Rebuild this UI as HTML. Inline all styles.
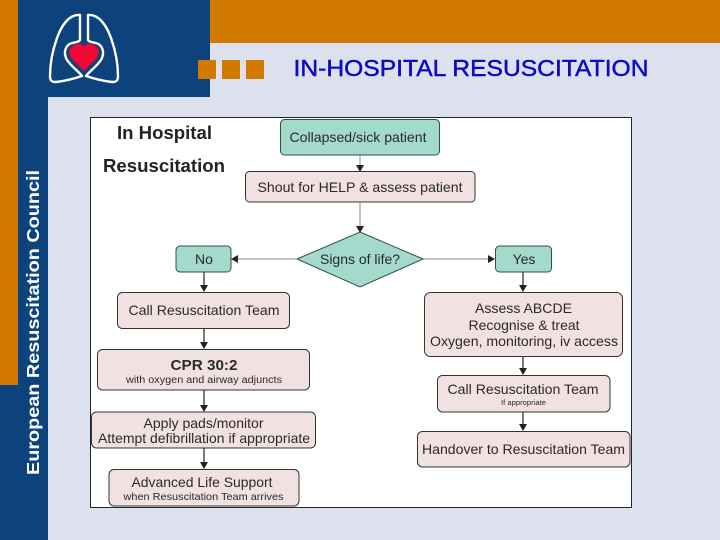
<!DOCTYPE html>
<html><head><meta charset="utf-8"><style>
html,body{margin:0;padding:0;width:720px;height:540px;overflow:hidden;background:#dde1ee}
svg{display:block}
text{font-family:"Liberation Sans",sans-serif;fill:#2a2a2a;text-anchor:middle}
.b{fill:#f1e1e0;stroke:#333;stroke-width:1}
.g{fill:#a3dacb;stroke:#2f4f4a;stroke-width:1}
.l{stroke:#333;stroke-width:1.3;fill:none}
.t{stroke:#888;stroke-width:1;fill:none}
.a{fill:#222;stroke:none}
</style></head><body>
<svg width="720" height="540" viewBox="0 0 720 540" xmlns="http://www.w3.org/2000/svg">
<rect width="720" height="540" fill="#dde1ee"/>
<rect x="210" y="0" width="510" height="43" fill="#d27a00"/>
<rect x="0" y="0" width="48" height="540" fill="#0c437c"/>
<rect x="18" y="0" width="192" height="97" fill="#0c437c"/>
<rect x="0" y="0" width="18" height="385" fill="#d27a00"/>
<rect x="198" y="60" width="18" height="19" fill="#d27a00"/>
<rect x="222" y="60" width="18" height="19" fill="#d27a00"/>
<rect x="246" y="60" width="18" height="19" fill="#d27a00"/>
<!-- logo -->
<path d="M80 15 C70 14 62 24 57 38 C52 52 50 66 50 76 C50 81 52 82 56 82 C65 81 73 79 82 76 C78 71 71 66 67 60 C63 53 65 45 72 43 C76 42 79 42 80 40 Z" fill="none" stroke="#fff" stroke-width="2.4" stroke-linejoin="round"/>
<path d="M88 15 C98 14 106 24 111 38 C116 52 118 66 118 76 C118 81 116 82 112 82 C103 81 95 79 86 76 C90 71 97 66 101 60 C105 53 103 45 96 43 C92 42 89 42 88 40 Z" fill="none" stroke="#fff" stroke-width="2.4" stroke-linejoin="round"/>
<path d="M84 71 C78 65 69 59 69 52 C69 45 79 41 84 46 C89 41 99 45 99 52 C99 59 90 65 84 71 Z" fill="#ee0a32" stroke="#5a2a6a" stroke-width="1"/>
<text x="471" y="76" textLength="355" lengthAdjust="spacingAndGlyphs" style="fill:#0a0ac8;stroke:#0a0ac8;stroke-width:.45px;font-size:23px">IN-HOSPITAL RESUSCITATION</text>
<text transform="translate(39 322.500) rotate(-90)" textLength="305" lengthAdjust="spacingAndGlyphs" style="fill:#fff;font-weight:700;font-size:17.500px">European Resuscitation Council</text>
<!-- panel -->
<rect x="90.500" y="117.500" width="541" height="390" fill="#fff" stroke="#1c2430" stroke-width="1"/>
<text x="164.500" y="139" textLength="95" lengthAdjust="spacingAndGlyphs" style="font-weight:700;font-size:18px;fill:#222">In Hospital</text>
<text x="164" y="172" textLength="122" lengthAdjust="spacingAndGlyphs" style="font-weight:700;font-size:18px;fill:#222">Resuscitation</text>
<!-- connectors -->
<path class="t" d="M360 155V166M360 202V227M296 259H236M423 259H490"/>
<path class="a" d="M356 165H364L360 172ZM356 226H364L360 233ZM238 255V263L231 259ZM488 255V263L495 259Z"/>
<path class="l" d="M204 272V287M204 329V344M204 390V407M204 448V464M523 272V287M523 357V370M523 412V426"/>
<path class="a" d="M200 285H208L204 292ZM200 342H208L204 349ZM200 405H208L204 412ZM200 462H208L204 469ZM519 285H527L523 292ZM519 368H527L523 375ZM519 424H527L523 431Z"/>
<!-- boxes -->
<rect class="g" x="280.500" y="119.500" width="159" height="35.500" rx="4"/>
<text x="358" y="142" textLength="137" lengthAdjust="spacingAndGlyphs" style="font-size:14px">Collapsed/sick patient</text>
<rect class="b" x="245.500" y="171.500" width="229.500" height="30.500" rx="4"/>
<text x="360" y="192" textLength="205" lengthAdjust="spacingAndGlyphs" style="font-size:14px">Shout for HELP &amp; assess patient</text>
<polygon class="g" points="360,232 423,259 360,287 297,259"/>
<text x="360" y="264" textLength="80" lengthAdjust="spacingAndGlyphs" style="font-size:14px">Signs of life?</text>
<rect class="g" x="176" y="246" width="55" height="26" rx="4"/>
<text x="204" y="264" style="font-size:14px">No</text>
<rect class="g" x="495.500" y="246" width="56" height="26" rx="4"/>
<text x="524" y="264" style="font-size:14px">Yes</text>
<rect class="b" x="117.500" y="292.500" width="172" height="36" rx="5"/>
<text x="204" y="315" textLength="151" lengthAdjust="spacingAndGlyphs" style="font-size:14px">Call Resuscitation Team</text>
<rect class="b" x="424.500" y="292.500" width="198" height="64" rx="6"/>
<text x="523.500" y="313" textLength="97" lengthAdjust="spacingAndGlyphs" style="font-size:14px">Assess ABCDE</text>
<text x="524" y="330" textLength="111" lengthAdjust="spacingAndGlyphs" style="font-size:14px">Recognise &amp; treat</text>
<text x="524" y="346" textLength="188" lengthAdjust="spacingAndGlyphs" style="font-size:14px">Oxygen, monitoring, iv access</text>
<rect class="b" x="97.500" y="349.500" width="212" height="40.500" rx="5"/>
<text x="204" y="370" textLength="67" lengthAdjust="spacingAndGlyphs" style="font-weight:700;font-size:15px">CPR 30:2</text>
<text x="204" y="383" textLength="156" lengthAdjust="spacingAndGlyphs" style="font-size:10px">with oxygen and airway adjuncts</text>
<rect class="b" x="91.500" y="412" width="224" height="36" rx="5"/>
<text x="203.500" y="428" textLength="120" lengthAdjust="spacingAndGlyphs" style="font-size:14px">Apply pads/monitor</text>
<text x="204" y="443" textLength="212" lengthAdjust="spacingAndGlyphs" style="font-size:14px">Attempt defibrillation if appropriate</text>
<rect class="b" x="109" y="469.500" width="190" height="36.500" rx="5"/>
<text x="202" y="487" textLength="141" lengthAdjust="spacingAndGlyphs" style="font-size:14px">Advanced Life Support</text>
<text x="203.500" y="500" textLength="160" lengthAdjust="spacingAndGlyphs" style="font-size:10.500px">when Resuscitation Team arrives</text>
<rect class="b" x="437.500" y="375.500" width="172.500" height="36.500" rx="5"/>
<text x="523" y="394" textLength="151" lengthAdjust="spacingAndGlyphs" style="font-size:14px">Call Resuscitation Team</text>
<text x="523.500" y="405" textLength="45" lengthAdjust="spacingAndGlyphs" style="font-size:7px">If appropriate</text>
<rect class="b" x="417.500" y="431.500" width="212.500" height="35.500" rx="5"/>
<text x="523.500" y="454" textLength="203" lengthAdjust="spacingAndGlyphs" style="font-size:14px">Handover to Resuscitation Team</text>
</svg>
</body></html>
